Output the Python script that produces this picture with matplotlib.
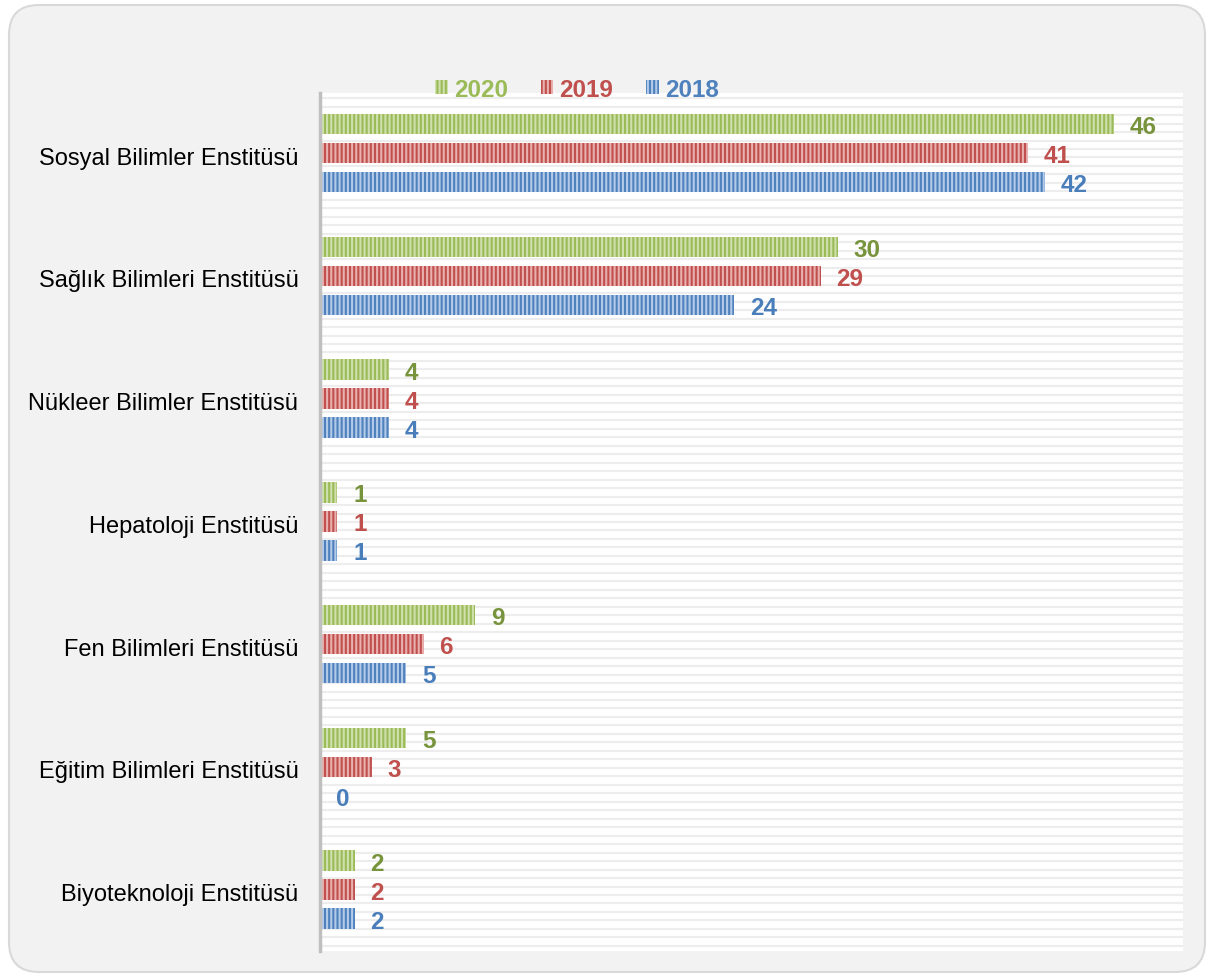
import numpy as np
import matplotlib
matplotlib.use("Agg")
import matplotlib.pyplot as plt
from matplotlib.patches import FancyBboxPatch, Patch
from matplotlib.transforms import ScaledTranslation

categories = ["Sosyal Bilimler Enstitüsü", "Sağlık Bilimleri Enstitüsü",
              "Nükleer Bilimler Enstitüsü", "Hepatoloji Enstitüsü",
              "Fen Bilimleri Enstitüsü", "Eğitim Bilimleri Enstitüsü",
              "Biyoteknoloji Enstitüsü"]
years = ["2020", "2019", "2018"]
v2020 = [46, 30, 4, 1, 9, 5, 2]
v2019 = [41, 29, 4, 1, 6, 3, 2]
v2018 = [42, 24, 4, 1, 5, 0, 2]
series = [v2020, v2019, v2018]

base_colors = ["#9bbb59", "#c0504d", "#4f81bd"]
stripe_colors = ["#cfe0ad", "#e8b0ae", "#b3cbe9"]
label_colors = ["#77933c", "#c0504d", "#4a7ebb"]

plt.rcParams["font.family"] = ["Liberation Sans", "DejaVu Sans"]
plt.rcParams["hatch.linewidth"] = 1.5

W, H = 1210, 978
fig = plt.figure(figsize=(W / 100, H / 100), dpi=100)
fig.patch.set_facecolor("white")

bg = FancyBboxPatch((9, 5), 1196, 967, boxstyle="round,pad=0,rounding_size=30",
                    facecolor="#f2f2f2", edgecolor="#d9d9d9", linewidth=1.5,
                    transform=None, zorder=-10)
fig.add_artist(bg)

left, right, top, bottom = 320, 1183, 94, 952
ax = fig.add_axes([left / W, 1 - bottom / H, (right - left) / W, (bottom - top) / H])
ax.set_zorder(1)
ax.set_facecolor("white")

# striped background pattern of plot area
ax.hlines(np.linspace(0.006, 0.994, 101), 0, 1, transform=ax.transAxes,
          colors="#ededed", linewidth=1.6, zorder=0.5)

y = np.arange(len(categories))
offsets = [-0.237, 0.0, 0.237]
bh = 0.167
for i, vals in enumerate(series):
    ax.barh(y + offsets[i], vals, height=bh, color=base_colors[i],
            edgecolor=stripe_colors[i], linewidth=0, hatch="||||", zorder=2)
    for yy, v in zip(y + offsets[i], vals):
        ax.annotate(str(v), (v, yy), xytext=(16, -2.5), textcoords="offset pixels",
                    ha="left", va="center", fontsize=17.5, fontweight="bold",
                    color=label_colors[i], zorder=3)

ax.set_xlim(0, 50)
ax.set_ylim(6.5, -0.49)
ax.set_yticks(y)
ax.set_yticklabels(categories, fontsize=17, color="#000000")
ax.tick_params(axis="y", length=0, pad=15.5)
shift = ScaledTranslation(0, -2 / 100, fig.dpi_scale_trans)
for lab in ax.get_yticklabels():
    lab.set_transform(lab.get_transform() + shift)
ax.set_xticks([])
for s in ["top", "right", "bottom"]:
    ax.spines[s].set_visible(False)
ax.spines["left"].set_color("#bfbfbf")
ax.spines["left"].set_linewidth(2.5)
ax.spines["left"].set_zorder(4)

handles = [Patch(facecolor=base_colors[i], edgecolor=stripe_colors[i], hatch="||||",
                 linewidth=0) for i in range(3)]
leg = fig.legend(handles, years, loc="center", bbox_to_anchor=(577 / W, 1 - 90.5 / H),
                 ncol=3, frameon=False, prop={"size": 17.5, "weight": "bold"},
                 handlelength=0.52, handleheight=0.52, handletextpad=0.25,
                 columnspacing=1.36, labelcolor=base_colors)
leg.set_zorder(5)

fig.savefig("out.png", dpi=100, facecolor=fig.get_facecolor())
